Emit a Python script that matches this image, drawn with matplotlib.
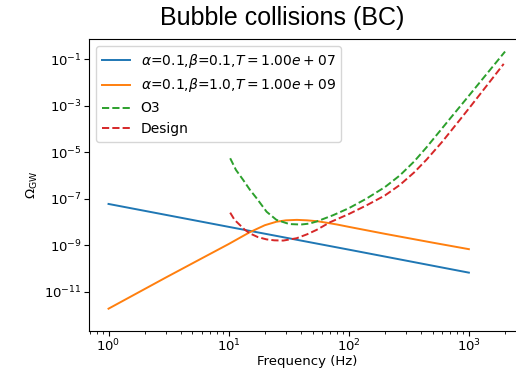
import numpy as np
import matplotlib
matplotlib.use("Agg")
import matplotlib.pyplot as plt
from matplotlib.ticker import LogLocator, NullLocator

# ---- data ----
blue_f = [1, 10, 100, 1000]
blue_logO = [-7.215, -8.20, -9.18, -10.17]

orange_f = [1, 3, 6, 10, 15, 20, 25, 30, 37, 45, 55, 65, 80, 100, 200, 500, 1000]
orange_logO = [-11.72, -10.38, -9.55, -8.94, -8.43, -8.13, -7.98, -7.92, -7.90,
               -7.92, -7.96, -8.02, -8.10, -8.20, -8.50, -8.88, -9.16]

o3_f = [10.3, 11.5, 13.2, 15, 17.1, 20.7, 25, 32, 40, 47, 54, 74, 100, 140, 200, 266,
        350, 444, 693, 1000, 1300, 2000]
o3_logO = [-5.25, -5.75, -6.18, -6.60, -6.97, -7.55, -7.90, -8.08, -8.10, -8.06,
           -7.97, -7.70, -7.40, -6.99, -6.49, -5.99, -5.39, -4.78, -3.56, -2.56,
           -1.84, -0.66]

design_f = [10.3, 11.2, 12.4, 13.6, 15, 17.5, 20.7, 24, 28.5, 36.8, 45, 54, 70, 100,
            140, 200, 266, 350, 444, 600, 843, 1050, 1312, 1600, 1950]
design_logO = [-7.59, -7.90, -8.12, -8.32, -8.48, -8.64, -8.74, -8.78, -8.79, -8.69,
               -8.52, -8.33, -8.00, -7.65, -7.28, -6.85, -6.40, -5.86, -5.31, -4.54,
               -3.59, -2.97, -2.33, -1.76, -1.19]

labels = [r'$\alpha$=0.1,$\beta$=0.1,$T=1.00e+07$',
          r'$\alpha$=0.1,$\beta$=1.0,$T=1.00e+09$',
          'O3', 'Design']

W, H = 516, 369
fig = plt.figure(figsize=(W / 100, H / 100), dpi=100)
left_px, right_px, top_px, bot_px = 89.3, 524.5, 39, 331
ax = fig.add_axes([left_px / W, 1 - bot_px / H, (right_px - left_px) / W, (bot_px - top_px) / H])

ax.plot(blue_f, 10 ** np.array(blue_logO), color='C0', lw=1.4, label=labels[0])
ax.plot(orange_f, 10 ** np.array(orange_logO), color='C1', lw=1.4, label=labels[1])
ax.plot(o3_f, 10 ** np.array(o3_logO), color='C2', ls='--', lw=1.4, label=labels[2])
ax.plot(design_f, 10 ** np.array(design_logO), color='C3', ls='--', lw=1.4, label=labels[3])

ax.set_xscale('log')
ax.set_yscale('log')
ax.set_xlim(10 ** -0.16, 10 ** 3.463)
ax.set_ylim(10 ** -12.68, 10 ** -0.12)
ax.set_yticks([10.0 ** k for k in (-1, -3, -5, -7, -9, -11)])
ax.yaxis.set_minor_locator(NullLocator())
ax.xaxis.set_minor_locator(LogLocator(base=10, subs=np.arange(2, 10)))

ax.tick_params(labelsize=9.5, length=3.5, pad=2)
ax.tick_params(axis='x', pad=1)
ax.tick_params(which='minor', length=2)
ax.set_xlabel('Frequency (Hz)', fontsize=9.5, labelpad=1)
ax.set_ylabel(r'$\Omega_{\rm GW}$', fontsize=9.5, labelpad=3)

ax.legend(loc='upper left', fontsize=10, handlelength=2.0)

fig.text(282 / W, 1 - 18 / H, 'Bubble collisions (BC)', ha='center', va='center',
         fontsize=18, family='Liberation Sans')

fig.savefig('out.png', dpi=100)
